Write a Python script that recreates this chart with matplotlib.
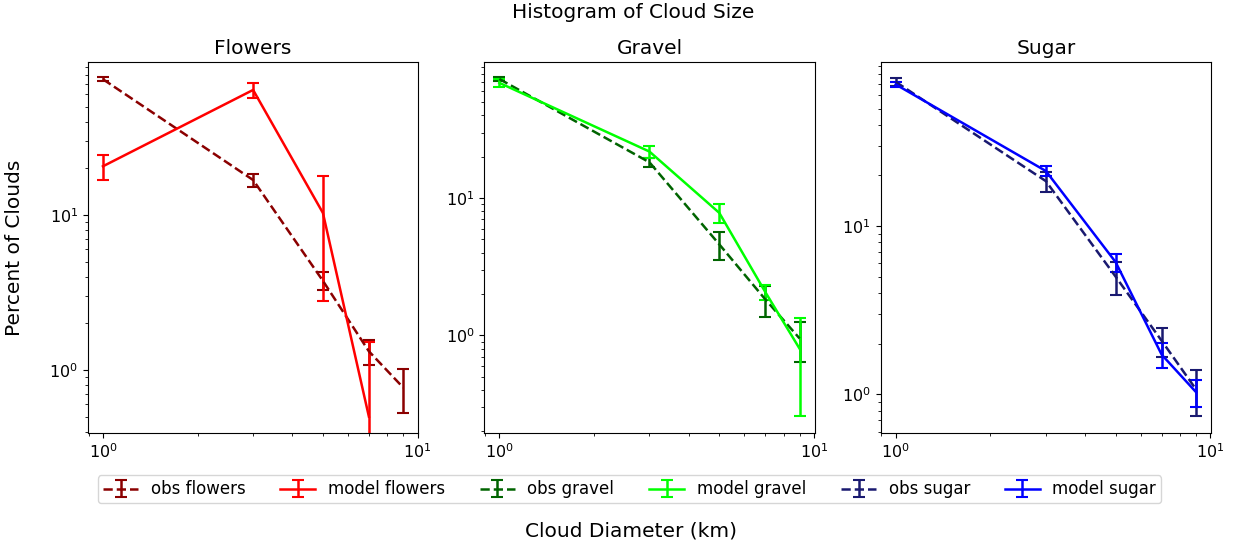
import numpy as np
import matplotlib
matplotlib.use("Agg")
import matplotlib.pyplot as plt

# Cloud diameter bins (km)
diameters = [1, 3, 5, 7, 9]

# Percent of clouds per diameter bin, with 1-sigma spread
obs_flowers = [75.0, 16.8, 3.76, 1.32, 0.77]
obs_flowers_err = [2.0, 1.7, 0.5, 0.24, 0.24]
model_flowers = [20.6, 64.0, 10.3, 0.5, None]
model_flowers_err = [3.8, 7.0, 7.5, 1.02, None]

obs_gravel = [73.6, 18.2, 4.6, 1.83, 0.95]
obs_gravel_err = [2.0, 1.4, 1.05, 0.46, 0.31]
model_gravel = [69.0, 21.8, 7.8, 2.07, 0.80]
model_gravel_err = [4.3, 2.3, 1.23, 0.27, 0.54]

obs_sugar = [72.0, 18.5, 5.0, 2.08, 1.07]
obs_sugar_err = [4.0, 2.5, 1.1, 0.41, 0.33]
model_sugar = [69.5, 21.25, 6.1, 1.72, 1.03]
model_sugar_err = [2.0, 1.45, 0.76, 0.29, 0.19]

panel_titles = ["Flowers", "Gravel", "Sugar"]


def trim(x, y, e):
    keep = [i for i, v in enumerate(y) if v is not None]
    return ([x[i] for i in keep], [y[i] for i in keep], [e[i] for i in keep])


panels = [
    (obs_flowers, obs_flowers_err, model_flowers, model_flowers_err,
     "darkred", "red", "obs flowers", "model flowers"),
    (obs_gravel, obs_gravel_err, model_gravel, model_gravel_err,
     "darkgreen", "lime", "obs gravel", "model gravel"),
    (obs_sugar, obs_sugar_err, model_sugar, model_sugar_err,
     "midnightblue", "blue", "obs sugar", "model sugar"),
]

fig, axes = plt.subplots(1, 3, figsize=(12.37, 5.48), dpi=100)
fig.subplots_adjust(left=0.0711, right=0.979, top=0.887, bottom=0.210,
                    wspace=0.2)

handles = []
ylims = [(0.393, 97.0), (0.195, 98.0), (0.589, 94.6)]
for ax, title, (o, oe, m, me, oc, mc, ol, ml), yl in zip(axes, panel_titles,
                                                        panels, ylims):
    x1, y1, e1 = trim(diameters, o, oe)
    x2, y2, e2 = trim(diameters, m, me)
    h1 = ax.errorbar(x1, y1, yerr=e1, color=oc, ls="--", lw=1.8,
                     capsize=4, elinewidth=1.8, capthick=1.5, label=ol)
    h2 = ax.errorbar(x2, y2, yerr=e2, color=mc, ls="-", lw=1.8,
                     capsize=4, elinewidth=1.8, capthick=1.5, label=ml)
    handles += [h1, h2]
    ax.set_xscale("log")
    ax.set_yscale("log")
    ax.set_ylim(*yl)
    ax.set_title(title, fontsize=14.5)
    ax.tick_params(labelsize=11.5)

fig.text(0.5115, 0.978, "Histogram of Cloud Size", ha="center", va="center",
         fontsize=14.5)
fig.text(0.012, 0.548, "Percent of Clouds", ha="center", va="center",
         rotation=90, fontsize=14.5)
fig.text(0.510, 0.031, "Cloud Diameter (km)", ha="center", va="center",
         fontsize=14.5)

fig.legend(handles=handles, loc="center", bbox_to_anchor=(0.509, 0.107),
           ncol=6, fontsize=12, handlelength=2.1, columnspacing=2.1,
           handletextpad=0.75, borderpad=0.3)

fig.savefig("out.png", dpi=100)
